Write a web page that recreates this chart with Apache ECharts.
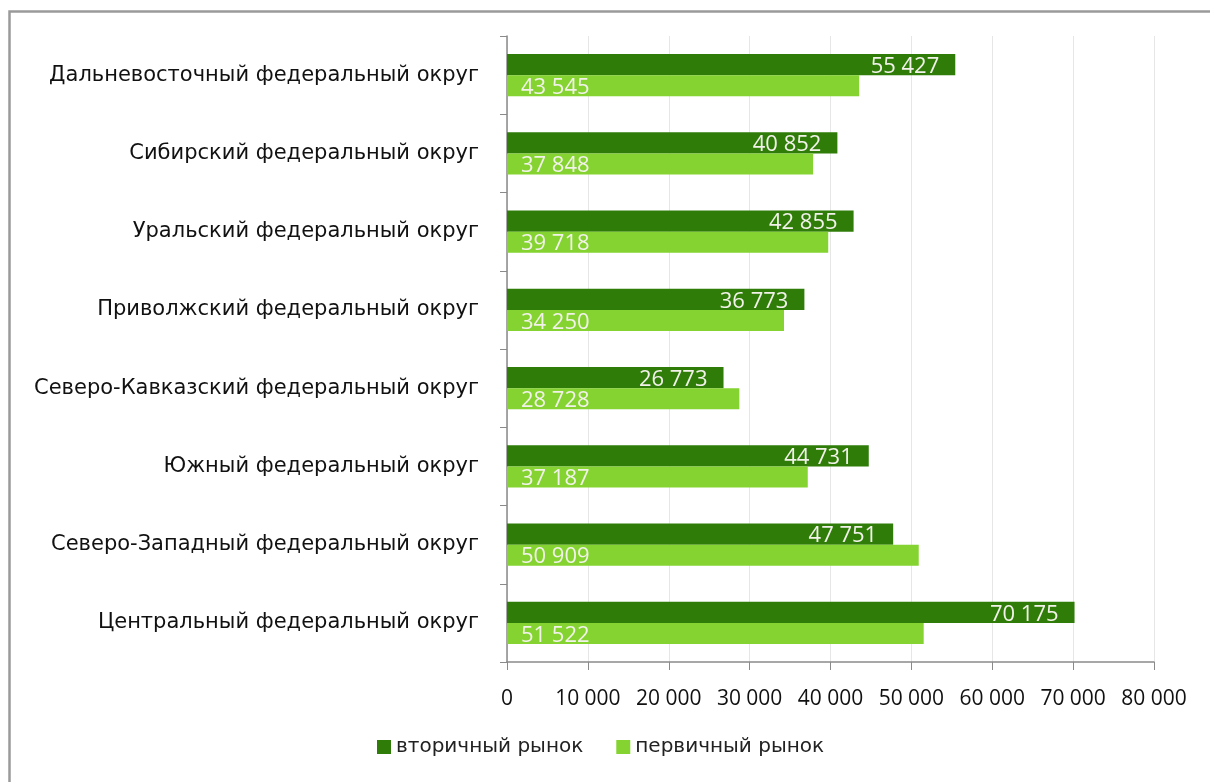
<!DOCTYPE html>
<html><head><meta charset="utf-8">
<script src="https://cdn.jsdelivr.net/npm/echarts@6/dist/echarts.min.js"></script>
<style>html,body{margin:0;padding:0;background:#fff}#c{width:1210px;height:782px}</style>
</head><body><div id="c"></div>
<script>
const categories = ["Центральный федеральный округ","Северо-Западный федеральный округ","Южный федеральный округ","Северо-Кавказский федеральный округ","Приволжский федеральный округ","Уральский федеральный округ","Сибирский федеральный округ","Дальневосточный федеральный округ"];
const secondary = [70175, 47751, 44731, 26773, 36773, 42855, 40852, 55427];
const primary = [51522, 50909, 37187, 28728, 34250, 39718, 37848, 43545];
const seriesNames = ["вторичный рынок", "первичный рынок"];
const valueTicks = [0, 10000, 20000, 30000, 40000, 50000, 60000, 70000, 80000];

const fmt = v => String(v).replace(/\B(?=(\d{3})+(?!\d))/g, ' ');
const chart = echarts.init(document.getElementById('c'));
chart.setOption({
  animation: false,
  graphic: [{type:'rect', shape:{x:9.5,y:11.5,width:1400,height:1000}, style:{fill:'none', stroke:'#9a9a9a', lineWidth:2.5}}],
  grid: {left: 507, right: 56, top: 36, bottom: 120, containLabel: false},
  legend: {
    data: seriesNames, bottom: 20, left: 372, itemWidth: 14, itemHeight: 14, itemGap: 33,
    icon: 'rect',
    textStyle: {fontFamily: 'DejaVu Sans', fontSize: 20, color: '#222'}
  },
  xAxis: {
    type: 'value', min: valueTicks[0], max: valueTicks[valueTicks.length-1], interval: 10000,
    axisLine: {show: true, lineStyle: {color: '#8a8a8a', width: 1.5}},
    axisTick: {show: true, length: 8, lineStyle: {color: '#8a8a8a'}},
    splitLine: {show: true, lineStyle: {color: '#e6e6e6'}},
    axisLabel: {margin: 27, fontFamily: 'Open Sans', fontSize: 21, color: '#111', formatter: fmt}
  },
  yAxis: {
    type: 'category', data: categories,
    axisLine: {show: true, lineStyle: {color: '#8a8a8a', width: 1.5}},
    axisTick: {show: true, length: 7, lineStyle: {color: '#8a8a8a'}},
    axisLabel: {margin: 28, fontFamily: 'DejaVu Sans', fontSize: 21, color: '#111'}
  },
  series: [
    {name: seriesNames[0], type: 'bar', data: secondary, barGap: '0%', barCategoryGap: '46%',
     itemStyle: {color: '#2f7d08'},
     label: {show: true, position: 'insideRight', distance: 16, offset: [0, 2], color: '#f2f2ea', fontFamily: 'Open Sans', fontSize: 22, formatter: p => fmt(p.value)}},
    {name: seriesNames[1], type: 'bar', data: primary, barGap: '0%', barCategoryGap: '46%',
     itemStyle: {color: '#84d330'},
     label: {show: true, position: 'insideLeft', distance: 14, offset: [0, 2], color: '#f2f2ea', fontFamily: 'Open Sans', fontSize: 22, formatter: p => fmt(p.value)}}
  ]
});
</script></body></html>
